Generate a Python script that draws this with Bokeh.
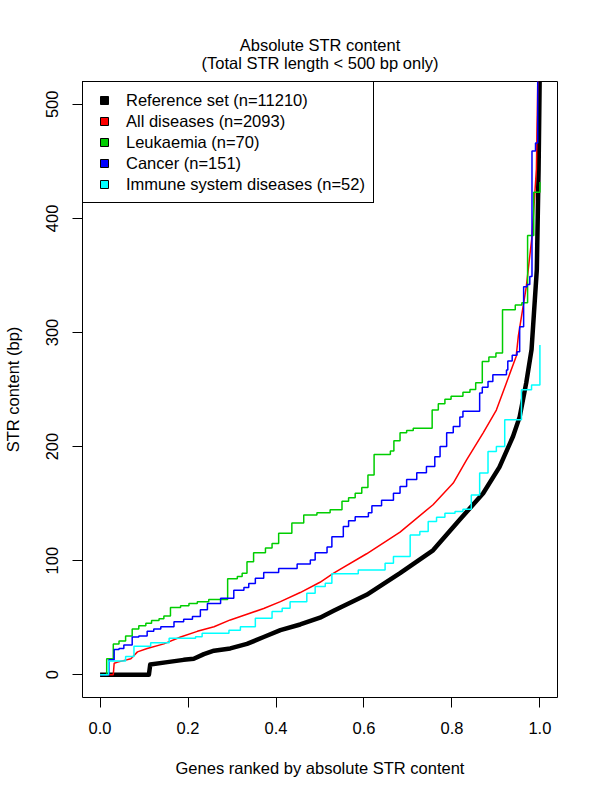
from bokeh.plotting import figure
from bokeh.models import Range1d, FixedTicker, Legend, LegendItem, NumeralTickFormatter
from bokeh.embed import file_html
from bokeh.resources import INLINE

FONT = "Liberation Sans"
FS = "16.5px"

# ---- data ----
ref_x = [0.0, 0.111, 0.114, 0.153, 0.19, 0.213, 0.236, 0.259, 0.296, 0.334, 0.372, 0.41, 0.455, 0.5,
         0.531, 0.606, 0.682, 0.757, 0.818, 0.871, 0.908, 0.939, 0.954, 0.969, 0.981, 0.993, 0.997, 1.0]
ref_y = [0, 0, 9, 11, 13, 14, 18, 21, 23, 27, 33, 39, 44, 50,
         56, 70, 89, 109, 136, 159, 182, 209, 226, 256, 285, 355, 443, 540]

all_x = [0.0, 0.03, 0.032, 0.04, 0.07, 0.085, 0.107, 0.145, 0.183, 0.221, 0.259, 0.296, 0.334, 0.372,
         0.41, 0.455, 0.5, 0.531, 0.606, 0.682, 0.757, 0.803, 0.833, 0.871, 0.901, 0.924, 0.946, 0.951,
         0.969, 0.982, 0.992, 0.996]
all_y = [0, 0, 10, 11, 14, 20, 23, 27, 33, 38, 42, 48, 53, 58,
         64, 72, 81, 89, 106, 125, 149, 168, 188, 212, 232, 256, 279, 297,
         340, 384, 443, 540]

leuk_x = [0.0, 0.015, 0.03, 0.043, 0.058, 0.073, 0.088, 0.104, 0.117, 0.134, 0.145, 0.16, 0.183, 0.202,
          0.221, 0.247, 0.29, 0.312, 0.323, 0.334, 0.349, 0.376, 0.391, 0.406, 0.436, 0.463, 0.493, 0.523,
          0.55, 0.565, 0.58, 0.595, 0.609, 0.623, 0.66, 0.668, 0.682, 0.697, 0.712, 0.755, 0.769, 0.784,
          0.798, 0.825, 0.841, 0.854, 0.869, 0.884, 0.9, 0.915, 0.944, 0.959, 0.972, 0.986, 1.0]
leuk_y = [0, 14, 27, 29.5, 34, 40, 43, 45, 47.5, 49, 51.5, 59, 60.5, 62.5,
          64, 66, 84, 86, 89, 99, 107, 111, 115, 124, 133, 140, 142, 144.5,
          152, 155, 159, 164, 175, 193, 196, 205, 212, 214, 216, 232, 237.5, 241.5,
          244, 247.5, 250, 256, 274.5, 278.5, 282, 320, 324, 326, 385, 423, 432]

cancer_x = [0.0, 0.02, 0.032, 0.043, 0.054, 0.073, 0.088, 0.107, 0.122, 0.138, 0.168, 0.19, 0.21, 0.228,
            0.244, 0.274, 0.304, 0.327, 0.338, 0.353, 0.372, 0.406, 0.448, 0.478, 0.489, 0.516, 0.527,
            0.553, 0.565, 0.58, 0.61, 0.618, 0.64, 0.667, 0.682, 0.697, 0.72, 0.742, 0.761, 0.773, 0.788,
            0.803, 0.818, 0.825, 0.863, 0.869, 0.882, 0.893, 0.924, 0.927, 0.937, 0.948, 0.954, 0.963,
            0.971, 0.977, 0.982, 0.99, 0.995]
cancer_y = [0, 13, 22, 23, 26, 33, 34, 38, 40, 42, 46.5, 48.5, 51, 57,
            62.5, 67, 74, 76.5, 80, 84.5, 89.5, 93, 97, 100.5, 107, 112, 121,
            130, 135, 138.5, 142, 148, 153, 159, 165, 171, 177, 182.5, 191, 200, 212,
            217.5, 226, 231, 247, 252, 257, 263, 267, 275, 280, 283, 305, 340,
            342, 349, 459, 466, 540]

imm_x = [0.0, 0.019, 0.058, 0.077, 0.115, 0.157, 0.217, 0.232, 0.293, 0.319, 0.353, 0.391, 0.414, 0.432,
         0.47, 0.489, 0.512, 0.527, 0.587, 0.648, 0.667, 0.705, 0.727, 0.746, 0.765, 0.784, 0.807, 0.825,
         0.844, 0.863, 0.882, 0.901, 0.92, 0.958, 0.981, 1.0]
imm_y = [0, 12, 16, 25, 28, 32, 33.3, 36.3, 39, 42, 49.4, 55.3, 58.2, 64,
         71.4, 77.2, 80.2, 88.5, 91.8, 97.7, 103.5, 122.5, 125.5, 134.2, 138, 141.6, 143, 145,
         157.6, 176.7, 195.6, 200, 223.4, 249.7, 254, 289]

legend_labels = ["Reference set (n=11210)", "All diseases (n=2093)", "Leukaemia (n=70)",
                 "Cancer (n=151)", "Immune system diseases (n=52)"]
colors = ["#000000", "#FF0000", "#00CD00", "#0000FF", "#00FFFF"]

x_ticks = [0.0, 0.2, 0.4, 0.6, 0.8, 1.0]
y_ticks = [0, 100, 200, 300, 400, 500]

title_line1 = "Absolute STR content"
title_line2 = "(Total STR length < 500 bp only)"
x_title = "Genes ranked by absolute STR content"
y_title = "STR content (bp)"

# ---- figure ----
p = figure(width=591, height=791, output_backend="svg", toolbar_location=None,
           x_range=Range1d(-0.04, 1.04), y_range=Range1d(-20, 520),
           min_border_left=81, min_border_right=34, min_border_top=81, min_border_bottom=94,
           background_fill_color="white", border_fill_color="white")

p.title.text = title_line1 + "\n" + title_line2
p.title.align = "center"
p.title.text_align = "center"
p.title.text_font = FONT
p.title.text_font_size = FS
p.title.text_font_style = "normal"
p.title.text_color = "black"
p.title.standoff = 20

p.grid.grid_line_color = None
p.outline_line_color = "black"
p.outline_line_width = 1
p.outline_line_alpha = 1

for ax in (p.xaxis[0], p.yaxis[0]):
    ax.axis_line_color = None
    ax.major_tick_out = 10
    ax.major_tick_in = 0
    ax.minor_tick_line_color = None
    ax.major_tick_line_color = "black"
    ax.major_label_text_font = FONT
    ax.major_label_text_font_size = FS
    ax.major_label_text_color = "black"
    ax.axis_label_text_font = FONT
    ax.axis_label_text_font_size = FS
    ax.axis_label_text_font_style = "normal"
    ax.axis_label_text_color = "black"

p.xaxis.ticker = FixedTicker(ticks=x_ticks)
p.xaxis.formatter = NumeralTickFormatter(format="0.0")
p.xaxis.major_label_standoff = 14
p.xaxis.axis_label = x_title
p.xaxis.axis_label_standoff = 22

p.yaxis.ticker = FixedTicker(ticks=y_ticks)
p.yaxis.formatter = NumeralTickFormatter(format="0")
p.yaxis.major_label_orientation = "vertical"
p.yaxis.major_label_standoff = 14
p.yaxis.axis_label = y_title
p.yaxis.axis_label_standoff = 22

# ---- curves ----
p.line(ref_x, ref_y, line_color=colors[0], line_width=4.5, line_join="round")
p.line(all_x, all_y, line_color=colors[1], line_width=1.5)
p.step(leuk_x, leuk_y, mode="after", line_color=colors[2], line_width=1.5)
p.step(cancer_x, cancer_y, mode="after", line_color=colors[3], line_width=1.5)
p.step(imm_x, imm_y, mode="after", line_color=colors[4], line_width=1.5)

# ---- legend (filled boxes; proxy renderers with no visible points) ----
nan = float("nan")
items = []
for lab, col in zip(legend_labels, colors):
    r = p.scatter(x=[nan], y=[nan], marker="square", size=12, fill_color=col,
                  line_color="black", line_width=1)
    items.append(LegendItem(label=lab, renderers=[r]))

legend = Legend(items=items, location="top_left", margin=0, padding=8, spacing=1,
                label_height=20, glyph_height=20, glyph_width=26, label_standoff=9,
                border_line_color="black", border_line_width=1, border_line_alpha=1,
                background_fill_color="white", background_fill_alpha=1,
                label_text_font=FONT, label_text_font_size=FS, label_text_color="black")
p.add_layout(legend)

open("out.html", "w").write(file_html(p, INLINE))
